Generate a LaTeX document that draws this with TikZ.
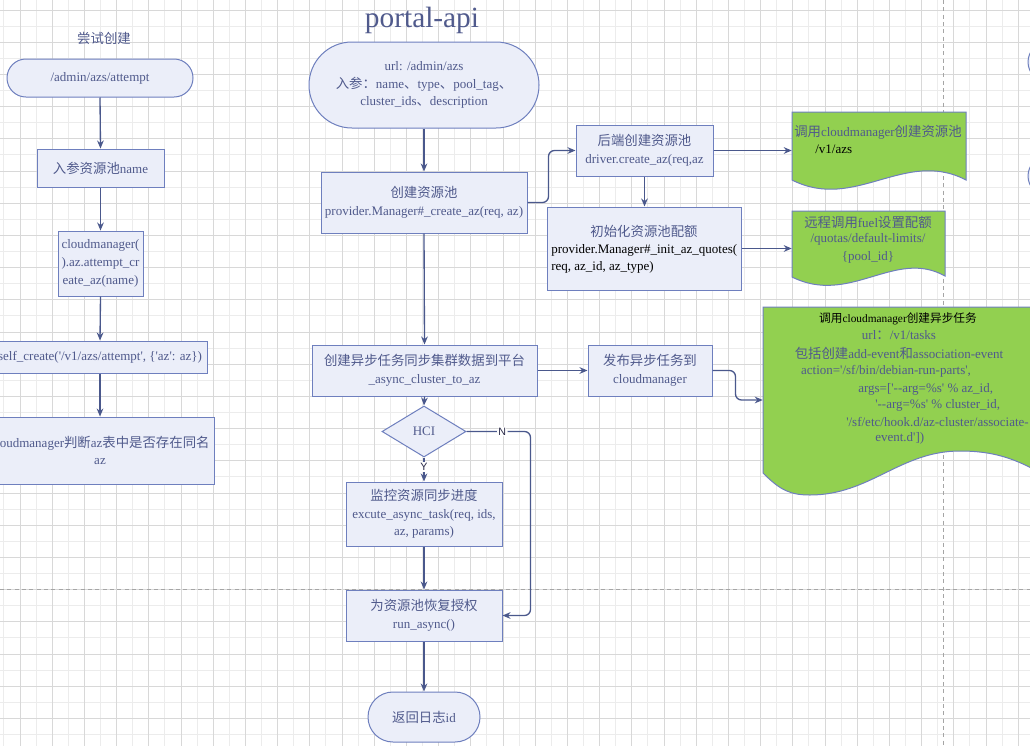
\documentclass[tikz,border=0pt]{standalone}
\usepackage{fontspec}
\newfontfamily\serif{Liberation Serif}
\newfontfamily\cjk{Noto Sans CJK SC}[Scale=1.03]
\newfontfamily\lblfont{Liberation Sans}
\usetikzlibrary{arrows.meta,shapes.geometric}
\newcommand\zh[1]{{\cjk #1}}
\definecolor{boxc}{RGB}{235,238,249}
\definecolor{bordc}{RGB}{110,127,190}
\definecolor{arrowc}{RGB}{74,88,140}
\definecolor{txtc}{RGB}{80,90,140}
\definecolor{greenc}{RGB}{146,208,80}
\definecolor{gridc}{RGB}{216,216,216}
\definecolor{gridl}{RGB}{236,236,236}
\definecolor{pagec}{RGB}{165,165,165}
\definecolor{lblc}{RGB}{40,40,70}
\begin{document}
\begin{tikzpicture}[x=0.75pt,y=-0.75pt,
  every node/.style={font=\serif\fontsize{9.75}{13.25}\selectfont, text=txtc, inner sep=0pt},
  box/.style={draw=bordc, fill=boxc, line width=0.75pt, inner sep=0pt, align=center},
  sz/.style 2 args={minimum width=#1*0.75pt, minimum height=#2*0.75pt},
  doc/.style={draw=bordc, fill=greenc, line width=0.75pt},
  arr/.style={draw=arrowc, line width=1pt, -{Stealth[length=6pt,width=5pt]}},
  lbl/.style={font=\lblfont\fontsize{8}{9}\selectfont, text=lblc, fill=white, inner sep=1pt},
  gridline/.style={draw=gridc, line width=0.75pt},
  gridlight/.style={draw=gridl, line width=0.75pt},
  pageline/.style={draw=pagec, line width=0.75pt, dash pattern=on 3pt off 2.5pt}]
\fill[white] (0,0) rectangle (1030,746);
\useasboundingbox (0,0) rectangle (1030,746);
% grid: light lines, then darker every second line
\foreach \i in {-1,1,...,63} \draw[gridlight] ({20+16.1*\i},0) -- ({20+16.1*\i},746);
\foreach \j in {1,3,...,46} \draw[gridlight] (0,{10+16.1*\j}) -- (1030,{10+16.1*\j});
\foreach \i in {0,2,...,64} \draw[gridline] ({20+16.1*\i},0) -- ({20+16.1*\i},746);
\foreach \j in {0,2,...,46} \draw[gridline] (0,{10+16.1*\j}) -- (1030,{10+16.1*\j});
% page breaks
\draw[pageline] (943,0) -- (943,746);
\draw[pageline] (0,589) -- (1030,589);
% partial shapes at right edge
\draw[draw=bordc, fill=boxc, line width=0.75pt] (1048,62) circle[radius=20];
\draw[draw=bordc, fill=boxc, line width=0.75pt] (1048,176) circle[radius=20];

% ---------- left column ----------
\node (t1) at (104,38) {\zh{尝试创建}};
\node[box, sz={186}{38}, rounded corners=14.2pt] (s1) at (100,78) {/admin/azs/attempt};
\node[box, sz={127}{38}] (b1) at (100.5,168) {\zh{入参资源池}name};
\node[box, sz={85}{65}] (b2) at (100.5,263.5) {cloudmanager(\\).az.attempt\_cr\\eate\_az(name)};
\node[box, sz={214}{32}] (b3) at (100,357) {self\_create('/v1/azs/attempt', \{'az': az\})};
\node[box, sz={228}{67}] (b4) at (100,450.5) {cloudmanager\zh{判断}az\zh{表中是否存在同名}\\az};
\draw[arr] (s1.south) -- (b1.north);
\draw[arr] (b1.south) -- (b2.north);
\draw[arr] (b2.south) -- (b3.north);
\draw[arr] (b3.south) -- (b4.north);

% ---------- centre column ----------
\node[font=\serif\fontsize{22}{26}\selectfont] (t2) at (422,20) {portal-api};
\node[box, sz={230}{86}, rounded corners=32.2pt] (s2) at (424,85) {url: /admin/azs\\\zh{入参：}name\zh{、}type\zh{、}pool\_tag\zh{、}\\cluster\_ids\zh{、}description};
\node[box, sz={206}{61}] (b5) at (424,202.5) {\zh{创建资源池}\\provider.Manager\#\_create\_az(req, az)};
\node[box, sz={137}{51}] (b6) at (644.5,150.5) {\zh{后端创建资源池}\\driver.create\_az(req,az};
\node[box, sz={194}{83}] (b7) at (644,248.5) {};
\node (b7t) at (644,231) {\zh{初始化资源池配额}};
\node[anchor=west, text=black] (b7a) at (551,250) {provider.Manager\#\_init\_az\_quotes(};
\node[anchor=west, text=black] (b7b) at (551,267) {req, az\_id, az\_type)};

% green documents
\draw[doc] (792,112) -- (966,112) -- (966,180) .. controls (905,148) and (855,212) .. (792,180) -- cycle;
\node[sz={174}{77}] (d1) at (879,150.5) {};
\node (d1a) at (878,132) {\zh{调用}cloudmanager\zh{创建资源池}};
\node[anchor=west, text=black] (d1b) at (815,149) {/v1/azs};

\draw[doc] (792,211) -- (945,211) -- (945,276) .. controls (895,248) and (850,306) .. (792,277) -- cycle;
\node[sz={153}{75}] (d2) at (868.5,248.5) {};
\node (d2a) at (868,222) {\zh{远程调用}fuel\zh{设置配额}};
\node (d2b) at (868,239) {/quotas/default-limits/};
\node (d2c) at (868,257) {\{pool\_id\}};

\draw[doc] (763,307) -- (1045,307) -- (1045,475) .. controls (1020,462) and (1000,451) .. (960,451) .. controls (900,451) and (870,495) .. (810,495) .. controls (790,495) and (780,490) .. (763,473) -- cycle;
\node[sz={282}{186}] (d3) at (904,400) {};
\node[text=black, font=\serif\fontsize{8.5}{10}\selectfont] (d3a) at (898,319) {\zh{调用}cloudmanager\zh{创建异步任务}};
\node (d3b) at (899,335) {url\zh{：}/v1/tasks};
\node (d3c) at (899,353) {\zh{包括创建}add-event\zh{和}association-event};
\node (d3d) at (886,371) {action='/sf/bin/debian-run-parts',};
\node[anchor=west] (d3e) at (858,389) {args=['--arg=\%s' \% az\_id,};
\node[anchor=west] (d3f) at (875,405) {'--arg=\%s' \% cluster\_id,};
\node[anchor=west] (d3g) at (846,422) {'/sf/etc/hook.d/az-cluster/associate-};
\node[anchor=west] (d3h) at (875,438) {event.d'])};

\node[box, sz={225}{51}] (b8) at (424.5,370.5) {\zh{创建异步任务同步集群数据到平台}\\\_async\_cluster\_to\_az};
\node[box, sz={124}{51}] (b9) at (650,370.5) {\zh{发布异步任务到}\\cloudmanager};
\node[box, diamond, aspect=1.647, sz={84}{51}] (dia) at (424,431.5) {HCI};
\node[box, sz={156}{64}] (b10) at (424,514) {\zh{监控资源同步进度}\\excute\_async\_task(req, ids,\\az, params)};
\node[box, sz={156}{51}] (b11) at (424,615.5) {\zh{为资源池恢复授权}\\run\_async()};
\node[box, sz={112}{50}, rounded corners=18.7pt] (s3) at (424,717) {\zh{返回日志}id};

% connectors
\draw[arr] (s2.south) -- (b5.north);
\draw[arr, rounded corners=4.5pt] (b5.east) -- ++(21,0) |- (b6.west);
\draw[arr] (b6.south) -- (b6.south |- b7.north);
\draw[arr] (b6.east) -- (d1.west);
\draw[arr] (b7.east) -- (d2.west);
\draw[arr] (b5.south) -- (b8.north);
\draw[arr] (b8.east) -- (b9.west);
\draw[arr, rounded corners=4.5pt] (b9.east) -- ++(23,0) |- (d3.west);
\draw[arr] (b8.south) -- (dia.north);
\draw[arr] (dia.south) -- node[lbl, pos=0.4] {Y} (b10.north);
\draw[arr, rounded corners=4.5pt] (dia.east) -- node[lbl, pos=0.56] {N} ++(64,0) |- (b11.east);
\draw[arr] (b10.south) -- (b11.north);
\draw[arr] (b11.south) -- (s3.north);
\end{tikzpicture}
\end{document}
